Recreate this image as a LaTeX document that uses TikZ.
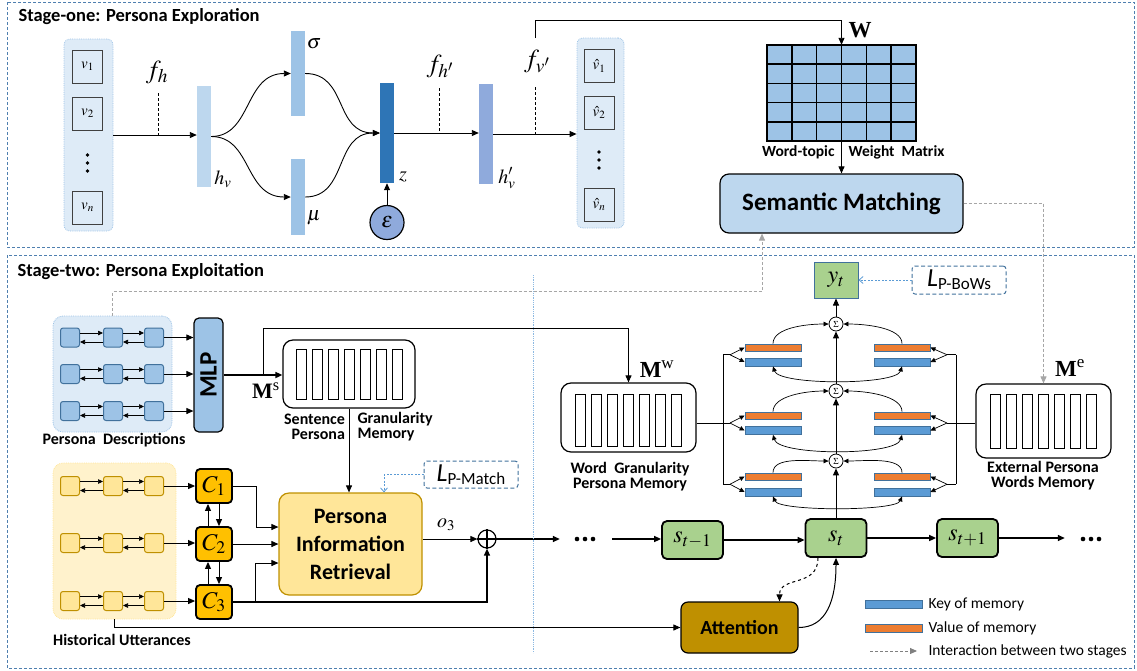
\documentclass[tikz,border=0pt]{standalone}
\usepackage{mathptmx}
\usepackage[no-math]{fontspec}
\setmainfont{Carlito}
\newfontfamily\tms{Liberation Serif}
\usetikzlibrary{arrows.meta,calc}
\definecolor{lblue}{HTML}{BDD7EE}
\definecolor{mblue}{HTML}{9DC3E6}
\definecolor{pblue}{HTML}{8FAADC}
\definecolor{dblue}{HTML}{2E75B6}
\definecolor{bgblue}{HTML}{DEEBF7}
\definecolor{frameblue}{HTML}{4F7FAF}
\definecolor{edgeblue}{HTML}{41719C}
\definecolor{keyblue}{HTML}{5B9BD5}
\definecolor{valorange}{HTML}{ED7D31}
\definecolor{cgold}{HTML}{FFC000}
\definecolor{lgold}{HTML}{FFE699}
\definecolor{bggold}{HTML}{FFF2CC}
\definecolor{dgold}{HTML}{BF9000}
\definecolor{sgreen}{HTML}{A9D18E}
\definecolor{dotblue}{HTML}{5B9BD5}
\definecolor{lgray}{HTML}{A6A6A6}
\newcommand{\setfs}[1]{\fontsize{#1}{#1}\selectfont}
\begin{document}
\begin{tikzpicture}[x=1pt,y=-1pt,
  arr/.style={-{Triangle[length=7pt,width=6pt]},line width=0.9pt},
  sarr/.style={-{Triangle[length=5pt,width=4.5pt]},line width=0.7pt},
  barr/.style={{Triangle[length=5pt,width=4.5pt]}-{Triangle[length=5pt,width=4.5pt]},line width=0.7pt},
  stageframe/.style={draw=frameblue,line width=1pt,dash pattern=on 3pt off 2pt},
  tickline/.style={line width=0.8pt,dash pattern=on 3pt off 2pt},
  vb/.style={inner sep=0pt,minimum width=14pt},
  cell/.style={draw=black!75,line width=0.8pt,fill=bgblue,minimum width=30pt,minimum height=33pt,inner sep=0pt,font=\setfs{15}},
  colbox/.style={draw=mblue,densely dotted,line width=0.8pt,fill=bgblue,rounded corners=6pt,inner sep=0pt},
  grayarr/.style={draw=lgray,line width=0.9pt,dash pattern=on 3pt off 2pt,-{Triangle[length=7pt,width=6pt,fill=lgray]}},
  dotarr/.style={draw=dotblue,line width=0.8pt,dash pattern=on 2pt off 1.5pt,-{Straight Barb[length=4pt,width=7pt]}},
  lossbox/.style={draw=edgeblue,line width=1pt,dash pattern=on 4pt off 2.5pt,rounded corners=3pt,inner sep=0pt},
  bsq/.style={draw=edgeblue,line width=1pt,fill=mblue,rounded corners=2.5pt,minimum size=19pt,inner sep=0pt},
  ysq/.style={draw=dgold,line width=1pt,fill=lgold,rounded corners=2.5pt,minimum size=19pt,inner sep=0pt},
  cbox/.style={draw=black,line width=1.8pt,fill=cgold,rounded corners=4pt,minimum width=36pt,minimum height=34pt,inner sep=0pt,font=\setfs{24}},
  sbox/.style={draw=black,line width=1.8pt,fill=sgreen,rounded corners=5pt,minimum width=61pt,minimum height=38pt,inner sep=0pt,font=\setfs{24}},
  membox/.style={draw=black,line width=1.2pt,fill=white,rounded corners=10pt,inner sep=0pt},
  keybar/.style={draw=edgeblue,line width=0.8pt,fill=keyblue,minimum width=56pt,minimum height=8pt,inner sep=0pt},
  valbar/.style={draw=edgeblue,line width=0.8pt,fill=valorange,minimum width=56pt,minimum height=7pt,inner sep=0pt},
  sumnode/.style={circle,draw=black,line width=0.8pt,fill=white,minimum size=14pt,inner sep=0pt,font=\setfs{9}},
  smalllab/.style={font=\bfseries\fontsize{16}{15}\selectfont},
]
\useasboundingbox (0,0) rectangle (1137,670);
% ---------- frames ----------
\draw[stageframe] (7,2) rectangle (1134,247);
\draw[stageframe] (7,255) rectangle (1134,668);
\node[anchor=west,font=\bfseries\setfs{18.5}] (t1) at (15,17) {Stage-one: Persona Exploration};
\node[anchor=west,font=\bfseries\setfs{18.5}] (t2) at (14,272) {Stage-two: Persona Exploitation};

% ---------- stage one ----------
\node[colbox,minimum width=49pt,minimum height=192pt] (inbox) at (88.5,135) {};
\node[cell] (v1) at (87.5,66.5) {$v_1$};
\node[cell] (v2) at (87.5,113.5) {$v_2$};
\fill (87.5,155) circle (1.8) (87.5,163) circle (1.8) (87.5,171) circle (1.8);
\node[cell] (vn) at (87.5,207.5) {$v_n$};

\node[vb,fill=lblue,minimum height=101pt] (hv) at (204,136.5) {};
\node[font=\setfs{20}] (hvl) at (223,179) {$h_v$};
\draw[arr] (inbox.east) -- (inbox.east -| hv.west);
\draw[tickline] (158,93) -- (158,135);
\node[font=\setfs{26}] (fh) at (157,72) {$f_h$};

\node[vb,fill=mblue,minimum height=85pt] (sig) at (298,73.5) {};
\node[font=\setfs{20}] (sigl) at (314,44) {$\sigma$};
\node[vb,fill=mblue,minimum height=76pt] (mu) at (298,197) {};
\node[font=\setfs{20}] (mul) at (314,218) {$\mu$};
\node[vb,fill=dblue,minimum height=100pt] (z) at (387,133) {};
\node[font=\setfs{20}] (zl) at (403,177) {$z$};

\draw[arr] (hv.east) .. controls (252,136.5) and (244,73.5) .. (sig.west);
\draw[arr] (hv.east) .. controls (252,136.5) and (244,197) .. (mu.west);
\draw[arr] (sig.east) .. controls (348,73.5) and (334,133) .. (z.west);
\draw[arr] (mu.east) .. controls (348,197) and (334,133) .. (z.west);

\node[circle,draw=black,line width=1.2pt,fill=pblue,minimum size=34pt,inner sep=0pt,font=\setfs{22}] (eps) at (387,222.5) {$\varepsilon$};
\draw[arr] (eps.north) -- (z.south);

\node[vb,fill=pblue,minimum height=100pt] (hvp) at (486,134) {};
\node[font=\setfs{20}] (hvpl) at (507,178) {$h'_v$};
\draw[arr] (z.east) -- (z.east -| hvp.west);
\draw[tickline] (439,88) -- (439,133);
\node[font=\setfs{26}] (fhp) at (440,66) {$f_{h'}$};

\node[colbox,minimum width=47pt,minimum height=190pt] (outbox) at (600.5,133) {};
\node[cell] (o1) at (599,66) {$\hat{v}_1$};
\node[cell] (o2) at (599,112.5) {$\hat{v}_2$};
\fill (599,152) circle (1.8) (599,160) circle (1.8) (599,168) circle (1.8);
\node[cell] (on) at (599,204.5) {$\hat{v}_n$};
\draw[arr] (hvp.east) -- (hvp.east -| outbox.west);
\draw[tickline] (535,87) -- (535,134);
\node[font=\setfs{26}] (fvp) at (537,61) {$f_{v'}$};

% word-topic matrix
\node[fill=mblue,minimum width=149pt,minimum height=96pt,inner sep=0pt] (W) at (841.5,93) {};
\foreach \i in {0,...,6} \draw[line width=1.6pt] ({767+\i*24.833},45) -- ({767+\i*24.833},141);
\foreach \j in {0,...,5} \draw[line width=1.6pt] (766.2,{45+\j*19.2}) -- (916.8,{45+\j*19.2});
\node[font=\tms\bfseries\setfs{23}] (Wl) at (860,30) {W};
\coordinate (fvtop) at (535,38);
\draw[arr] (fvtop) -- (535,20) -| (W.north);
\node[smalllab,font=\bfseries\setfs{15.5},anchor=east] (wt1) at (838,152) {Word-topic};
\node[smalllab,font=\bfseries\setfs{15.5},anchor=west] (wt2) at (845,152) {Weight\ \ Matrix};
\node[draw=black,line width=1.2pt,rounded corners=9pt,fill=lblue,minimum width=243pt,minimum height=59pt,font=\bfseries\setfs{25}] (sm) at (841.5,203.5) {Semantic Matching};
\draw[arr] (W.south) -- (sm.north);

% ---------- stage two: persona descriptions ----------
\node[colbox,rounded corners=10pt,minimum width=119pt,minimum height=116pt] (pdbox) at (112.5,374) {};
\node[draw=black,line width=1.2pt,fill=mblue,rounded corners=5pt,minimum width=29pt,minimum height=114pt,inner sep=0pt] (mlp) at (208.5,375) {};
\node[rotate=90,font=\bfseries\setfs{25}] (mlpl) at (mlp.center) {MLP};
\foreach \r/\y in {1/337.5,2/374,3/411}{
  \node[bsq] (pa\r) at (70,\y) {};
  \node[bsq] (pb\r) at (113,\y) {};
  \node[bsq] (pc\r) at (154,\y) {};
  \draw[sarr] ([yshift=4.5pt]pa\r.east) -- ([yshift=4.5pt]pb\r.west);
  \draw[sarr] ([yshift=-4.5pt]pb\r.west) -- ([yshift=-4.5pt]pa\r.east);
  \draw[sarr] ([yshift=4.5pt]pb\r.east) -- ([yshift=4.5pt]pc\r.west);
  \draw[sarr] ([yshift=-4.5pt]pc\r.west) -- ([yshift=-4.5pt]pb\r.east);
  \draw[arr] (pc\r.east) -- (pc\r.east -| mlp.west);
}
\node[smalllab] (pdl) at (114,440) {Persona\ \ Descriptions};

\node[membox,minimum width=132pt,minimum height=68pt] (sgm) at (349,374) {};
\foreach \k in {0,...,6} \draw[line width=1pt] ({296+16*\k},349) rectangle ({306+16*\k},399);
\draw[arr,line width=1.6pt] (mlp.east) -- (mlp.east -| sgm.west);
\node[font=\setfs{22}] (msl) at (266,391) {{\tms\bfseries M}\textsuperscript{\tms s}};
\node[smalllab,anchor=east,align=right] (sgl1) at (348.5,426.5) {Sentence\\Persona};
\node[smalllab,anchor=west,align=left] (sgl2) at (354,426.5) {Granularity\\Memory};

% word granularity memory
\node[membox,minimum width=135pt,minimum height=69pt] (mw) at (628.5,417.5) {};
\foreach \k in {0,...,6} \draw[line width=1pt] ({575+16*\k},394) rectangle ({585+16*\k},446);
\node[font=\setfs{23}] (mwl) at (657,369) {{\tms\bfseries M}\textsuperscript{\tms w}};
\node[smalllab,align=center] (mwlab) at (630,476.5) {Word\ \ Granularity\\Persona Memory};
\coordinate (br) at (263,375);
\draw[arr] (br) -- (263,328) -| (mw.north);

% ---------- historical utterances ----------
\node[draw=lgold,densely dotted,line width=0.8pt,fill=bggold,rounded corners=10pt,minimum width=123pt,minimum height=156pt,inner sep=0pt] (hbox) at (114.5,541) {};
\node[cbox] (c1) at (214,486) {$C_1$};
\node[cbox] (c2) at (214,544) {$C_2$};
\node[cbox] (c3) at (214,602) {$C_3$};
\foreach \r/\y in {1/486,2/543,3/601}{
  \node[ysq] (ha\r) at (70,\y) {};
  \node[ysq] (hb\r) at (113,\y) {};
  \node[ysq] (hc\r) at (154,\y) {};
  \draw[sarr] ([yshift=4.5pt]ha\r.east) -- ([yshift=4.5pt]hb\r.west);
  \draw[sarr] ([yshift=-4.5pt]hb\r.west) -- ([yshift=-4.5pt]ha\r.east);
  \draw[sarr] ([yshift=4.5pt]hb\r.east) -- ([yshift=4.5pt]hc\r.west);
  \draw[sarr] ([yshift=-4.5pt]hc\r.west) -- ([yshift=-4.5pt]hb\r.east);
  \draw[arr] (hc\r.east) -- (hc\r.east -| c1.west);
}
\node[smalllab] (hul) at (122,640) {Historical Utterances};
\draw[arr] ([xshift=-6pt]c2.north) -- ([xshift=-6pt]c1.south);
\draw[arr] ([xshift=5pt]c1.south) -- ([xshift=5pt]c2.north);
\draw[arr] ([xshift=-6pt]c3.north) -- ([xshift=-6pt]c2.south);
\draw[arr] ([xshift=5pt]c2.south) -- ([xshift=5pt]c3.north);

\node[draw=dgold,line width=1.2pt,fill=lgold,rounded corners=10pt,minimum width=143pt,minimum height=102pt,align=center,font=\bfseries\fontsize{22}{28}\selectfont] (pir) at (350.5,544) {Persona\\Information\\Retrieval};
\draw[arr] (sgm.south) -- (sgm.south |- pir.north);
\draw[arr] (c1.east) -- (256,486) |- ([yshift=17pt]pir.west);
\draw[arr] (c2.east) -- (c2.east -| pir.west);
\node[circle,draw=black,line width=1.2pt,minimum size=18pt,inner sep=0pt] (plus) at (487,539) {};
\draw[line width=1.2pt] (plus.north) -- (plus.south) (plus.west) -- (plus.east);
\draw[arr,line width=1.3pt] (c3.east) -| (plus.south);
\draw[arr] (255,602) |- ([yshift=-19pt]pir.west);
\draw[arr] ([yshift=5pt]pir.east) -- (plus.west);
\node[font=\setfs{20}] (o3l) at (446,525) {$o_3$};
\node[lossbox,minimum width=94pt,minimum height=27pt] (lpm) at (471,474.5) {{\itshape\setfs{26}L}\raisebox{-3pt}{\setfs{17}P-Match}};
\draw[dotarr] (lpm.west) -| ([xshift=33.5pt]pir.north);

% ---------- decoder ----------
\node[minimum width=52pt,minimum height=10pt,inner sep=0pt] (dots1) at (586,539) {};
\fill (577,539) circle (2.3) (585,539) circle (2.3) (593,539) circle (2.3);
\node[sbox] (stm1) at (692.5,540) {$s_{t-1}$};
\node[sbox] (st) at (836,538) {$s_t$};
\node[sbox] (stp1) at (967.5,538) {$s_{t+1}$};
\node[minimum width=52pt,minimum height=10pt,inner sep=0pt] (dots2) at (1091,539) {};
\fill (1083,539) circle (2.3) (1091,539) circle (2.3) (1099,539) circle (2.3);
\draw[arr,line width=1.5pt] (plus.east) -- (dots1.west);
\draw[arr,line width=1.5pt] (dots1.east) -- (dots1.east -| stm1.west);
\draw[arr,line width=1.5pt] (stm1.east) -- (stm1.east -| st.west);
\draw[arr,line width=1.5pt] (st.east) -- (stp1.west);
\draw[arr,line width=1.5pt] (stp1.east) -- (stp1.east -| dots2.west);

\node[draw=black,line width=1.2pt,fill=dgold,rounded corners=7pt,minimum width=117pt,minimum height=51pt,font=\bfseries\setfs{20}] (att) at (739.5,627.5) {Attention};
\draw[arr] (hbox.south) |- (att.west);
\draw[arr,dashed,line width=1pt] ([xshift=-18pt]st.south) .. controls +(0,30) and +(0,-26) .. ([xshift=40pt]att.north);
\draw[arr,line width=1pt] (att.east) .. controls +(28,0) and +(0,42) .. (st.south);

\draw[draw=dotblue!70,densely dotted,line width=0.8pt] (533,275) -- (533,653);

% ---------- memory network ----------
\node[draw=edgeblue,line width=1pt,fill=sgreen,minimum width=44pt,minimum height=36pt,inner sep=0pt,font=\setfs{24}] (yt) at (836,280) {$y_t$};
\node[lossbox,minimum width=94pt,minimum height=28pt] (lpb) at (959,280) {{\itshape\setfs{26}L}\raisebox{-3pt}{\setfs{17}P-BoWs}};
\draw[dotarr] (lpb.west) -- (yt.east);
\node[sumnode] (s1) at (836,324) {$\Sigma$};
\node[sumnode] (s2) at (836,391) {$\Sigma$};
\node[sumnode] (s3) at (836,461) {$\Sigma$};
\draw[arr] (st.north) -- (s3.south);
\draw[arr] (s3.north) -- (s2.south);
\draw[arr] (s2.north) -- (s1.south);
\draw[arr] (s1.north) -- (yt.south);

\foreach \n/\yo/\yb/\dp in {1/347.5/362/19, 2/415.5/430.5/21, 3/476.5/492/15}{
  \node[valbar] (lv\n) at (773,\yo) {};
  \node[keybar] (lk\n) at (773,\yb) {};
  \node[valbar] (rv\n) at (902,\yo) {};
  \node[keybar] (rk\n) at (902,\yb) {};
  \draw[sarr] (lv\n.north) .. controls +(0,-16) and +(-22,0) .. (s\n.west);
  \draw[sarr] (rv\n.north) .. controls +(0,-16) and +(22,0) .. (s\n.east);
  \draw[barr] (lk\n.south) .. controls +(6,\dp) and +(-6,\dp) .. (rk\n.south);
}
% left forks
\draw[line width=0.8pt] (723,354.75) -- (723,484.25);
\draw[line width=0.8pt] ([yshift=-5.5pt]mw.east) -- (723,423);
\foreach \n/\fy in {1/354.75, 2/423, 3/484.25}{
  \draw[line width=0.8pt] (723,\fy) -- (730,\fy);
  \draw[sarr] (730,\fy) -- (lv\n.west);
  \draw[sarr] (730,\fy) -- (lk\n.west);
}
% external memory
\node[membox,minimum width=135pt,minimum height=74pt] (me) at (1043.5,421) {};
\foreach \k in {0,...,6} \draw[line width=1pt] ({990+16*\k},394) rectangle ({1000+16*\k},448);
\node[font=\setfs{23}] (mel) at (1070,368) {{\tms\bfseries M}\textsuperscript{\tms e}};
\node[smalllab,align=center] (melab) at (1043,475.5) {External Persona\\Words Memory};
\draw[line width=0.8pt] (956,354.75) -- (956,484.25);
\draw[line width=0.8pt] ([yshift=-2pt]me.west) -- (956,423);
\foreach \n/\fy in {1/354.75, 2/423, 3/484.25}{
  \draw[line width=0.8pt] (956,\fy) -- (947,\fy);
  \draw[sarr] (947,\fy) -- (rv\n.east);
  \draw[sarr] (947,\fy) -- (rk\n.east);
}

% ---------- interactions between stages ----------
\draw[grayarr] (sm.east) -| (me.north);
\draw[grayarr] (pdbox.north) -- ++(0,-24) -| ([xshift=-79.5pt]sm.south);

% ---------- legend ----------
\node[keybar,minimum width=57pt,minimum height=8pt] (lgk) at (893.5,604) {};
\node[anchor=west,font=\setfs{15.5}] (lgkt) at (925,604) {Key of memory};
\node[valbar,minimum width=57pt,minimum height=8pt] (lgv) at (893.5,628) {};
\node[anchor=west,font=\setfs{15.5}] (lgvt) at (925,628) {Value of memory};
\node[anchor=west,font=\setfs{15.5}] (lgit) at (925,651) {Interaction between two stages};
\coordinate (lga) at (870,651);
\draw[grayarr,draw=gray,-{Triangle[length=7pt,width=6pt,fill=gray]}] (lga) -- ++(47,0);
\end{tikzpicture}
\end{document}
